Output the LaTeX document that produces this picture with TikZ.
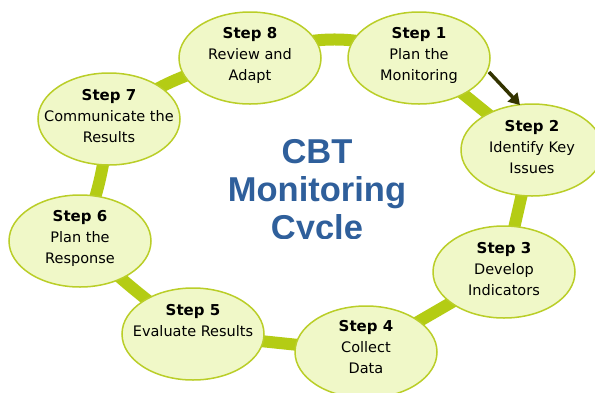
\documentclass[tikz,border=0pt]{standalone}
\usepackage{fontspec}
\setmainfont{DejaVu Sans}
\newfontfamily\titlefont{Liberation Sans}
\usetikzlibrary{shapes.geometric,backgrounds,arrows.meta}
\definecolor{bandc}{RGB}{180,204,20}
\definecolor{rimc}{RGB}{186,206,40}
\definecolor{fillc}{RGB}{240,248,200}
\definecolor{titlec}{RGB}{47,95,155}
\definecolor{arrowc}{RGB}{51,51,0}
\tikzset{
  x=1pt, y=-1pt,
  stepnode/.style={ellipse, draw=rimc, line width=1.5pt, fill=fillc,
    minimum width=142pt, minimum height=92pt, inner sep=0pt},
  steptext/.style={align=center, inner sep=0pt, yshift=3pt,
    font=\fontsize{14.5}{21}\selectfont},
  band/.style={draw=bandc, line width=12pt},
  pointer/.style={draw=arrowc, line width=3.5pt, -{Triangle[length=11pt,width=13pt]}},
  titletext/.style={align=center, text=titlec, font=\titlefont\bfseries\fontsize{34.5}{38}\selectfont}
}
\newcommand{\stephead}[1]{{\fontsize{15}{21}\selectfont\bfseries #1}}
\begin{document}
\begin{tikzpicture}
\useasboundingbox (0,0) rectangle (595,392);
\node[stepnode] (e1) at (419,58) {};
\node[stepnode] (e2) at (532,150) {};
\node[stepnode] (e3) at (504,272) {};
\node[stepnode] (e4) at (366,352) {};
\node[stepnode] (e5) at (193,334) {};
\node[stepnode] (e6) at (80,241) {};
\node[stepnode] (e7) at (109,119) {};
\node[stepnode] (e8) at (250,58) {};
\node[steptext] (t1) at (e1) {\stephead{Step 1}\\Plan the\\Monitoring};
\node[steptext] (t2) at (e2) {\stephead{Step 2}\\Identify Key\\Issues};
\node[steptext] (t3) at (e3) {\stephead{Step 3}\\Develop\\Indicators};
\node[steptext, yshift=2pt] (t4) at (e4) {\stephead{Step 4}\\Collect\\Data};
\node[steptext] (t5) at (e5) {\stephead{Step 5}\\Evaluate Results\\\mbox{}};
\node[steptext] (t6) at (e6) {\stephead{Step 6}\\Plan the\\Response};
\node[steptext] (t7) at (e7) {\stephead{Step 7}\\Communicate the\\Results};
\node[steptext] (t8) at (e8) {\stephead{Step 8}\\Review and\\Adapt};
\begin{scope}[on background layer]
  \fill[white] (0,0) rectangle (595,392);
  \draw[band] (e1.center) -- (e2.center);
  \draw[band] (e2.center) -- (e3.center);
  \draw[band] (e3.center) -- (e4.center);
  \draw[band] (e4.center) -- (e5.center);
  \draw[band] (e5.center) to[bend left=4] (e6.center);
  \draw[band] (e6.center) to[bend right=8] (e7.center);
  \draw[band] (e7.center) to[bend left=12] (e8.center);
  \draw[band] (e8.center) to[bend left=22] (e1.center);
\end{scope}
\coordinate (a1) at (489,72);
\coordinate (a2) at (520,105);
\draw[pointer] (a1) -- (a2);
\begin{scope}
  \clip (200,110) rectangle (440,238);
  \node[titletext] (title) at (317,193) {CBT\\Monitoring\\Cycle};
\end{scope}
\end{tikzpicture}
\end{document}
